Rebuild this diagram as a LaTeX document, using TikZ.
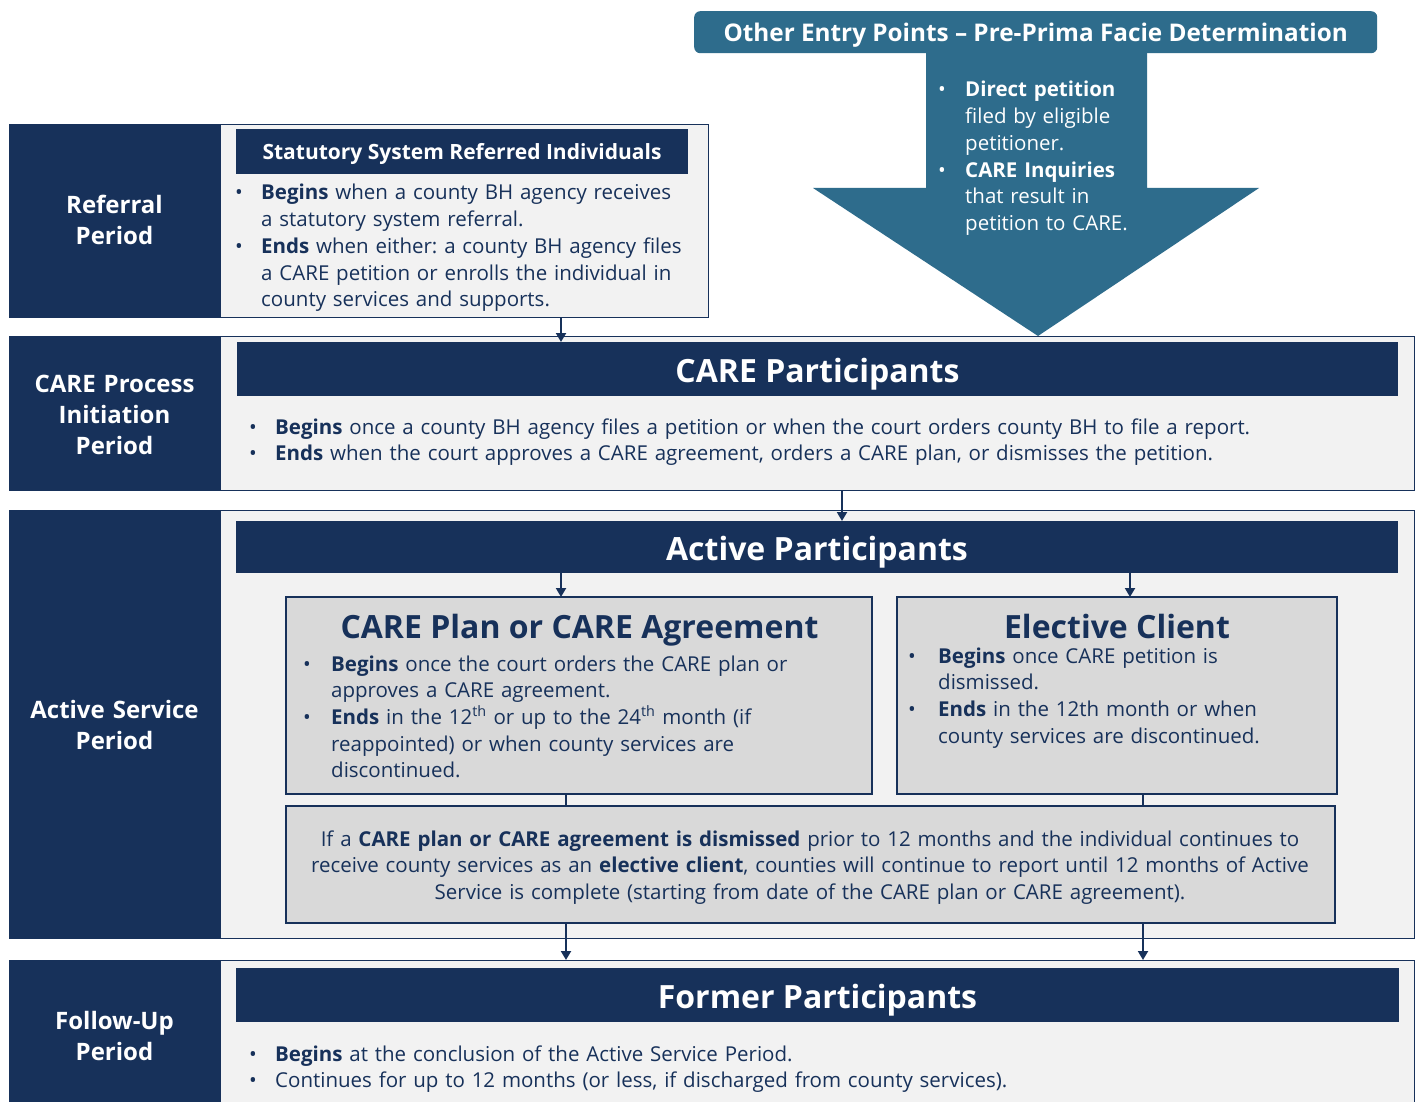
\documentclass[tikz,border=0pt]{standalone}
\usepackage{fontspec}
\setmainfont{Open Sans}
\usetikzlibrary{arrows.meta}
\definecolor{navy}{HTML}{17315A}
\definecolor{entryblue}{HTML}{2E6C8C}
\definecolor{lightbg}{HTML}{F2F2F2}
\definecolor{greybox}{HTML}{D9D9D9}
\frenchspacing
\newlength\bind
\newcommand\nl{\hfil\break}
\newcommand\bitem[1]{\noindent\hangindent=\bind\hangafter=1\makebox[\bind][l]{\textbullet}#1\par}
\begin{document}
\begin{tikzpicture}[x=1pt,y=-1pt,
 band/.style={fill=navy, draw=navy, line width=1pt, anchor=north west, inner sep=0pt, outer sep=0pt},
 panel/.style={fill=lightbg, draw=navy, line width=1pt, anchor=north west, inner sep=0pt, outer sep=0pt},
 hbar/.style={fill=navy, text=white, font=\bfseries\fontsize{32}{38}\selectfont, anchor=north west, inner sep=0pt, outer sep=0pt, text height=26pt, text depth=0pt},
 gbox/.style={fill=greybox, draw=navy, line width=1.5pt, anchor=north west, inner sep=0pt, outer sep=0pt},
 gtitle/.style={text=navy, font=\bfseries\fontsize{32}{38}\selectfont, anchor=base, inner sep=0pt},
 lab/.style={text=white, font=\bfseries\fontsize{24}{31}\selectfont, align=center, anchor=base, text width=200pt, inner sep=0pt},
 body/.style={text=navy, font=\fontsize{20.5}{26.7}\selectfont, align=left, anchor=base west, inner sep=0pt},
 conn/.style={draw=navy, line width=2pt},
 arr/.style={conn, -{Triangle[length=9pt,width=10pt]}}
]
\useasboundingbox (0,0) rectangle (1419,1102);
\clip (0,0) rectangle (1419,1102);
\fill[white] (0,0) rectangle (1419,1102);

% named x positions for connectors
\coordinate (xa) at (561,0);
\coordinate (xb) at (842,0);
\coordinate (xc) at (1130,0);
\coordinate (xd) at (566,0);
\coordinate (xe) at (1143,0);

% ---------- Row 1: Referral ----------
\node[band, minimum width=211, minimum height=192] (l1) at (9,125) {};
\node[panel, minimum width=488, minimum height=192] (p1) at (220,125) {};
\node[lab] (t1) at (114.5,214) {Referral\\Period};
\node[hbar, font=\bfseries\fontsize{21}{25}\selectfont, text height=16pt, minimum width=452, minimum height=45] (h1) at (236,129) {Statutory System Referred Individuals};
\node[body, text width=465] (b1) at (235,200) {\setlength\bind{26pt}%
\bitem{\textbf{Begins} when a county BH agency receives\nl a statutory system referral.}%
\bitem{\textbf{Ends} when either: a county BH agency files\nl a CARE petition or enrolls the individual in\nl county services and supports.}};

% ---------- Row 2: CARE Process Initiation ----------
\node[band, minimum width=211, minimum height=154] (l2) at (9,336) {};
\node[panel, minimum width=1194, minimum height=154] (p2) at (220,336) {};
\node[lab] (t2) at (114.5,392) {CARE Process\\Initiation\\Period};
\node[hbar, minimum width=1161, minimum height=54] (cphead) at (237,342) {CARE Participants};
\node[body, text width=1150] (b2) at (249,434) {\setlength\bind{26pt}%
\bitem{\textbf{Begins} once a county BH agency files a petition or when the court orders county BH to file a report.}%
\bitem{\textbf{Ends} when the court approves a CARE agreement, orders a CARE plan, or dismisses the petition.}};

% ---------- Row 3: Active Service ----------
\node[band, minimum width=211, minimum height=428] (l3) at (9,510) {};
\node[panel, minimum width=1194, minimum height=428] (p3) at (220,510) {};
\node[lab] (t3) at (114.5,718) {Active Service\\Period};
\node[hbar, minimum width=1162, minimum height=52] (aphead) at (236,521) {Active Participants};

\node[gbox, minimum width=586, minimum height=197] (cpa) at (286,597) {};
\node[gtitle] (cpat) at (579.5,638) {CARE Plan or CARE Agreement};
\node[body, text width=560] (b3) at (303,671) {\setlength\bind{28pt}%
\bitem{\textbf{Begins} once the court orders the CARE plan or\nl approves a CARE agreement.}%
\bitem{\textbf{Ends} in the 12\textsuperscript{th} or up to the 24\textsuperscript{th} month (if\nl reappointed) or when county services are\nl discontinued.}};

\node[gbox, minimum width=440, minimum height=197] (ec) at (897,597) {};
\node[gtitle] (ect) at (1117,638) {Elective Client};
\node[body, text width=420] (b4) at (908,663) {\setlength\bind{30pt}%
\bitem{\textbf{Begins} once CARE petition is\nl dismissed.}%
\bitem{\textbf{Ends} in the 12th month or when\nl county services are discontinued.}};

\node[gbox, minimum width=1049, minimum height=117] (dis) at (286,806) {};
\node[text=navy, font=\fontsize{20.5}{26.7}\selectfont, align=center, text width=1040, anchor=base, inner sep=0pt] (dist) at (810,846) {If a \textbf{CARE plan or CARE agreement is dismissed} prior to 12 months and the individual continues to\\receive county services as an \textbf{elective client}, counties will continue to report until 12 months of Active\\Service is complete (starting from date of the CARE plan or CARE agreement).};

% ---------- Row 4: Follow-Up ----------
\node[band, minimum width=211, minimum height=170] (l4) at (9,960) {};
\node[panel, minimum width=1194, minimum height=170] (p4) at (220,960) {};
\node[lab] (t4) at (114.5,1029) {Follow-Up\\Period};
\node[hbar, minimum width=1163, minimum height=54] (fphead) at (236,968) {Former Participants};
\node[body, text width=1150] (b5) at (249,1061) {\setlength\bind{26pt}%
\bitem{\textbf{Begins} at the conclusion of the Active Service Period.}%
\bitem{Continues for up to 12 months (or less, if discharged from county services).}};

% ---------- Other entry points ----------
\node[fill=entryblue, rounded corners=6pt, anchor=north west, minimum width=683, minimum height=42, inner sep=0pt, text=white, font=\bfseries\fontsize{24.3}{28}\selectfont, text height=18pt, text depth=0pt] (entry) at (694,11) {Other Entry Points -- Pre-Prima Facie Determination};
\fill[entryblue] (926,52) -- (1147,52) -- (1147,188) -- (1259,188) -- (1038,336) -- (813,188) -- (926,188) -- cycle;
\node[body, text=white, text width=200] (b6) at (938,97) {\setlength\bind{27pt}%
\bitem{\textbf{Direct petition}\nl filed by eligible\nl petitioner.}%
\bitem{\textbf{CARE Inquiries}\nl that result in\nl petition to CARE.}};

% ---------- Connectors ----------
\draw[arr] (p1.south -| xa) -- (cphead.north -| xa);
\draw[arr] (p2.south -| xb) -- (aphead.north -| xb);
\draw[arr] (aphead.south -| xa) -- (cpa.north -| xa);
\draw[arr] (aphead.south -| xc) -- (ec.north -| xc);
\draw[conn] (cpa.south -| xd) -- (dis.north -| xd);
\draw[conn] (ec.south -| xe) -- (dis.north -| xe);
\draw[arr] (dis.south -| xd) -- (p4.north -| xd);
\draw[arr] (dis.south -| xe) -- (p4.north -| xe);
\end{tikzpicture}
\end{document}
